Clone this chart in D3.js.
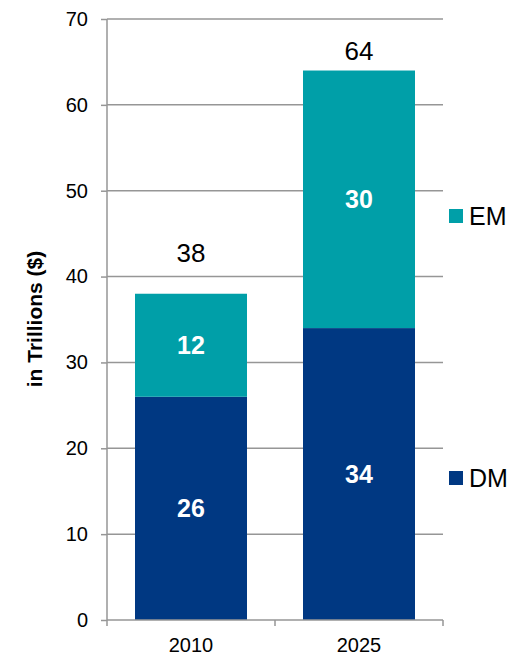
<!DOCTYPE html>
<html>
<head>
<meta charset="utf-8">
<script src="https://cdn.jsdelivr.net/npm/d3@7"></script>
<style>
  body { margin: 0; background: #fff; }
  text { font-family: "Liberation Sans", Arial, sans-serif; }
</style>
</head>
<body>
<svg id="chart"></svg>
<script>
// data
const years = ["2010", "2025"];
const dmValues = [26, 34];
const emValues = [12, 30];
const totals = [38, 64];
const yTicks = [0, 10, 20, 30, 40, 50, 60, 70];

const width = 525, height = 655;
const margin = { top: 19, right: 82, bottom: 35, left: 107 };
const innerW = width - margin.left - margin.right;
const innerH = height - margin.top - margin.bottom;

const colors = { DM: "#003882", EM: "#009FA8" };
const gridColor = "#969696";
// gap between bar top and its total label (placed by hand in the original)
const totalGap = [32, 11];

const svg = d3.select("#chart")
  .attr("width", width)
  .attr("height", height);

const g = svg.append("g")
  .attr("transform", "translate(" + margin.left + "," + margin.top + ")");

const y = d3.scaleLinear().domain([0, 70]).range([innerH, 0]);

// category bands: bars are 2/3 of each category slot
const x = d3.scaleBand()
  .domain(years)
  .range([0, innerW])
  .paddingInner(1 / 3)
  .paddingOuter(1 / 6);

// gridlines
g.append("g")
  .selectAll("line")
  .data(yTicks.filter(d => d > 0))
  .enter()
  .append("line")
  .attr("x1", 0)
  .attr("x2", innerW)
  .attr("y1", d => y(d))
  .attr("y2", d => y(d))
  .attr("stroke", gridColor)
  .attr("stroke-width", 1.5);

// stacked data
const rows = years.map((yr, i) => ({ year: yr, DM: dmValues[i], EM: emValues[i], total: totals[i] }));
const stack = d3.stack().keys(["DM", "EM"])(rows);

g.append("g")
  .selectAll("g")
  .data(stack)
  .enter()
  .append("g")
  .attr("fill", d => colors[d.key])
  .selectAll("rect")
  .data(d => d)
  .enter()
  .append("rect")
  .attr("x", d => x(d.data.year))
  .attr("width", x.bandwidth())
  .attr("y", d => y(d[1]))
  .attr("height", d => y(d[0]) - y(d[1]));

// segment value labels
stack.forEach(layer => {
  g.append("g")
    .selectAll("text")
    .data(layer)
    .enter()
    .append("text")
    .attr("x", d => x(d.data.year) + x.bandwidth() / 2)
    .attr("y", d => y((d[0] + d[1]) / 2))
    .attr("dy", "0.36em")
    .attr("text-anchor", "middle")
    .attr("fill", "#fff")
    .attr("font-weight", "bold")
    .attr("font-size", 25)
    .text(d => d[1] - d[0]);
});

// totals
g.append("g")
  .selectAll("text")
  .data(rows)
  .enter()
  .append("text")
  .attr("x", d => x(d.year) + x.bandwidth() / 2)
  .attr("y", (d, i) => y(d.total) - totalGap[i])
  .attr("text-anchor", "middle")
  .attr("font-size", 26)
  .attr("fill", "#000")
  .text(d => d.total);

// y axis
const yAxis = g.append("g")
  .call(d3.axisLeft(y).tickValues(yTicks).tickSize(6).tickPadding(13));
yAxis.selectAll("path, line").attr("stroke", gridColor).attr("stroke-width", 1.5);
yAxis.select(".domain").attr("d", "M0," + innerH + "V0");
yAxis.selectAll("text")
  .attr("font-family", "Liberation Sans, Arial, sans-serif")
  .attr("font-size", 20)
  .attr("fill", "#000");

// x axis with ticks at category boundaries
const xAxis = g.append("g").attr("transform", "translate(0," + innerH + ")");
xAxis.append("line")
  .attr("x1", 0).attr("x2", innerW)
  .attr("stroke", gridColor).attr("stroke-width", 1.5);
const step = x.step();
xAxis.selectAll(".bound")
  .data(d3.range(years.length + 1))
  .enter()
  .append("line")
  .attr("x1", i => i * step)
  .attr("x2", i => i * step)
  .attr("y1", 0)
  .attr("y2", 6)
  .attr("stroke", gridColor)
  .attr("stroke-width", 1.5);
xAxis.selectAll(".lbl")
  .data(years)
  .enter()
  .append("text")
  .attr("x", d => x(d) + x.bandwidth() / 2)
  .attr("y", 32)
  .attr("text-anchor", "middle")
  .attr("font-size", 20)
  .attr("fill", "#000")
  .text(d => d);

// y axis title
svg.append("text")
  .attr("transform", "translate(42,319) rotate(-90)")
  .attr("text-anchor", "middle")
  .attr("font-weight", "bold")
  .attr("font-size", 21)
  .attr("fill", "#000")
  .text("in Trillions ($)");

// legend
const legendItems = [
  { key: "EM", yPos: 216 },
  { key: "DM", yPos: 478 }
];
const legend = svg.append("g");
legend.selectAll("rect")
  .data(legendItems)
  .enter()
  .append("rect")
  .attr("x", 449)
  .attr("y", d => d.yPos - 7)
  .attr("width", 14)
  .attr("height", 14)
  .attr("fill", d => colors[d.key]);
legend.selectAll("text")
  .data(legendItems)
  .enter()
  .append("text")
  .attr("x", 469)
  .attr("y", d => d.yPos)
  .attr("dy", "0.36em")
  .attr("font-size", 25)
  .attr("fill", "#000")
  .text(d => d.key);
</script>
</body>
</html>
